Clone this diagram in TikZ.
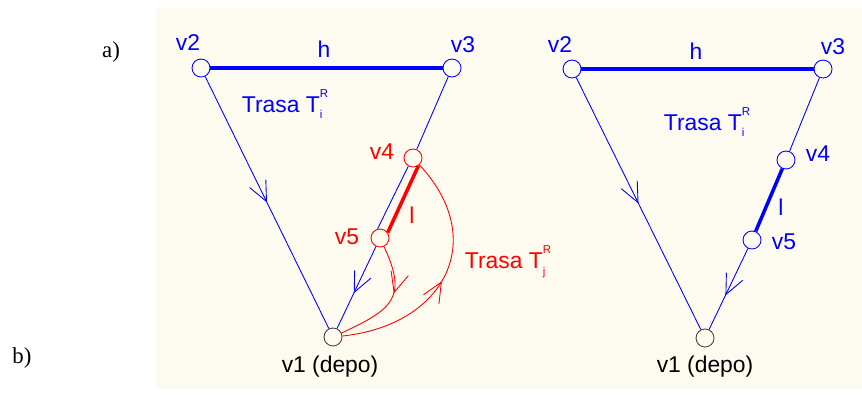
\documentclass[tikz,border=0pt]{standalone}
\usepackage{fontspec}
\setmainfont{Liberation Sans}
\newfontfamily\timesfont{Liberation Serif}
\usetikzlibrary{arrows.meta,decorations.markings}
\definecolor{paper}{RGB}{253,251,239}
\newcommand{\trasa}[1]{Trasa T\rlap{\raisebox{-0.55ex}{\fontsize{6.5}{7}\selectfont #1}}\raisebox{1.25ex}{\fontsize{6.5}{7}\selectfont R}}
\tikzset{
  routefig/.style={x=0.02cm,y=-0.02cm,
    every node/.style={font=\fontsize{13}{15}\selectfont,inner sep=1pt}},
  vertex/.style={circle,draw,line width=0.5pt,minimum size=0.36cm,inner sep=0pt},
  route/.style={line width=0.5pt},
  heavy/.style={line width=2pt},
  midbarb/.style={postaction={decorate},decoration={markings,
    mark=at position #1 with {\arrow{Straight Barb[length=0.4cm,width=0.36cm]}}}},
  panel/.style={font=\timesfont\fontsize{13}{15}\selectfont},
}

\begin{document}
\begin{tikzpicture}[routefig]
  \useasboundingbox (0,0) rectangle (862,396);
  \fill[paper] (156,8) rectangle (862,389);
  \node[panel] (pa) at (111,52) {a)};
  \node[panel] (pb) at (22,358) {b)};

  % left: segment l of T_i taken over by T_j
  \node[vertex,draw=blue] (av2) at (201,68) {};
  \node[vertex,draw=blue] (av3) at (452,68) {};
  \node[vertex,draw=red] (av4) at (413,158) {};
  \node[vertex,draw=red] (av5) at (380,238) {};
  \node[vertex,draw=black!75] (av1) at (333,337) {};
  \draw[route,blue] (av3) -- (av4);
  \draw[route,blue] (av4.-120) -- (av5.105);
  \draw[route,blue,midbarb=0.57] (av5) -- (av1);
  \draw[route,blue,midbarb=0.5] (av2) -- (av1);
  \draw[heavy,blue] (av2) -- (av3);
  \draw[heavy,red] (av4.-55) -- (av5.35);
  \draw[route,red,midbarb=0.42] (av5) to[out=-65,in=25,looseness=1.5] (av1);
  \draw[route,red,midbarb=0.48] (av1) to[out=6,in=-47,looseness=1.4] (av4);

  \node[text=blue] (av2l) at (188,43) {v2};
  \node[text=blue] (av3l) at (463,45) {v3};
  \node[text=blue] (ahl) at (324,49) {h};
  \node[text=blue] (ati) at (285,104) {\trasa{i}};
  \node[text=red] (av4l) at (382,152) {v4};
  \node[text=red] (av5l) at (347,237) {v5};
  \node[text=red] (all) at (412,215) {l};
  \node[text=red] (atj) at (508,262) {\trasa{j}};
  \node (av1l) at (330,367) {v1 (depo)};

  % right: route T_i as it stands
  \node[vertex,draw=blue] (bv2) at (572,69) {};
  \node[vertex,draw=blue] (bv3) at (823,69) {};
  \node[vertex,draw=blue] (bv4) at (786,160) {};
  \node[vertex,draw=blue] (bv5) at (752,240) {};
  \node[vertex,draw=black!75] (bv1) at (705,338) {};
  \draw[route,blue] (bv3) -- (bv4);
  \draw[route,blue,midbarb=0.58] (bv5) -- (bv1);
  \draw[route,blue,midbarb=0.5] (bv2) -- (bv1);
  \draw[heavy,blue] (bv2) -- (bv3);
  \draw[heavy,blue] (bv4) -- (bv5);

  \node[text=blue] (bv2l) at (560,45) {v2};
  \node[text=blue] (bv3l) at (833,47) {v3};
  \node[text=blue] (bhl) at (696,51) {h};
  \node[text=blue] (bti) at (707,122) {\trasa{i}};
  \node[text=blue] (bv4l) at (818,154) {v4};
  \node[text=blue] (bll) at (781,207) {l};
  \node[text=blue] (bv5l) at (784,242) {v5};
  \node (bv1l) at (705,367) {v1 (depo)};
\end{tikzpicture}
\end{document}
